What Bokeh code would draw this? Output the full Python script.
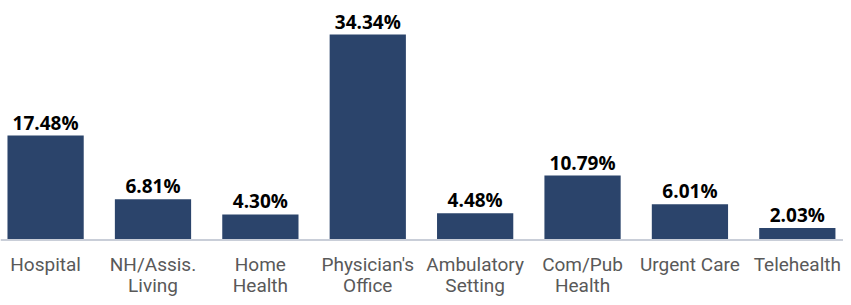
from bokeh.plotting import figure
from bokeh.models import ColumnDataSource, Range1d, Span
from bokeh.core.properties import value
from bokeh.embed import file_html
from bokeh.resources import INLINE

categories_line1 = ["Hospital", "NH/Assis.", "Home", "Physician's", "Ambulatory",
                    "Com/Pub", "Urgent Care", "Telehealth"]
categories_line2 = ["", "Living", "Health", "Office", "Setting", "Health", "", ""]
values = [17.48, 6.81, 4.30, 34.34, 4.48, 10.79, 6.01, 2.03]
labels = ["17.48%", "6.81%", "4.30%", "34.34%", "4.48%", "10.79%", "6.01%", "2.03%"]

xs = list(range(len(values)))
zeros = [0] * len(values)
src = ColumnDataSource(dict(x=xs, top=values, lab=labels, zero=zeros,
                            c1=categories_line1, c2=categories_line2))

p = figure(width=843, height=297, output_backend="svg", toolbar_location=None,
           x_range=Range1d(-0.42, 7.43), y_range=Range1d(-9.59, 40.04),
           x_axis_location=None, y_axis_location=None, min_border=0)
p.outline_line_color = None
p.xgrid.visible = False
p.ygrid.visible = False
p.background_fill_color = "white"
p.border_fill_color = "white"

p.add_layout(Span(location=0, dimension="width", line_color="#c9ced8", line_width=2))

p.vbar(x="x", top="top", bottom=0, width=0.71, source=src,
       fill_color="#2b446b", line_color=None)

p.text(x="x", y="top", text="lab", source=src, text_align="center",
       text_baseline="bottom", y_offset=0, text_font=value("Open Sans"),
       text_font_style="bold", text_font_size="19px", text_color="black")

for col, off in (("c1", 24), ("c2", 45)):
    p.text(x="x", y="zero", text=col, source=src, text_align="center",
           text_baseline="middle", y_offset=off, text_font=value("Roboto"),
           text_font_size="19px", text_color="#595959")

open("out.html", "w").write(file_html(p, INLINE))
